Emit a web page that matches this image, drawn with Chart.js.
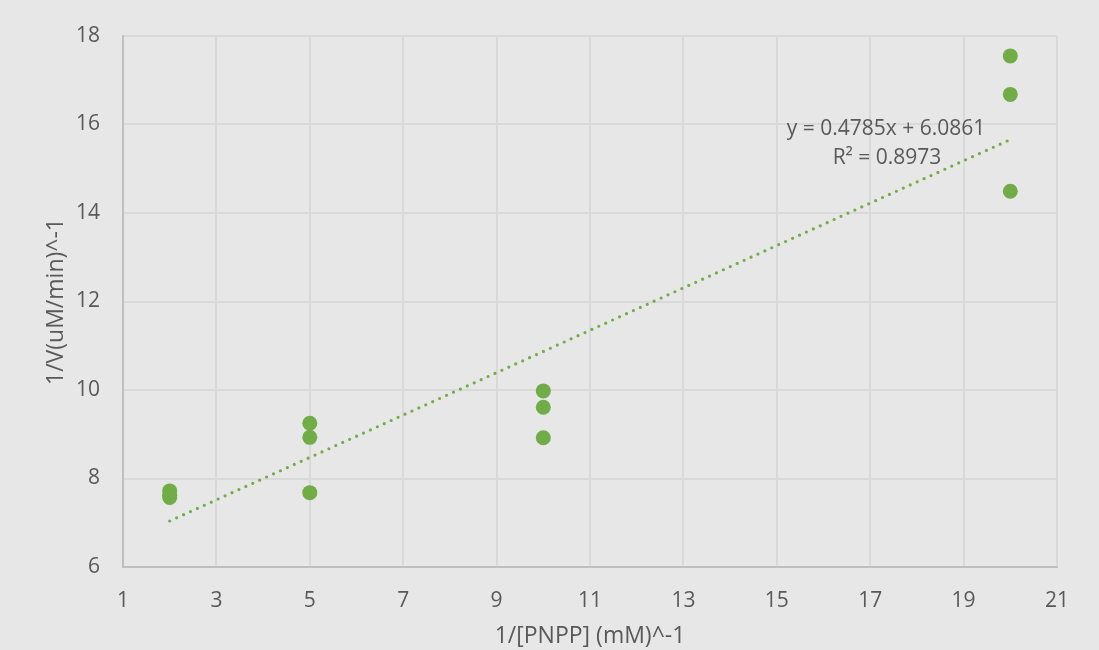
<!DOCTYPE html>
<html lang="en">
<head>
    <meta charset="UTF-8">
    <title>Lineweaver-Burk plot</title>
    <style>
        html, body {
            margin: 0;
            padding: 0;
            background-color: #e7e7e7;
        }

        .chart-box {
            width: 1099px;
            height: 650px;
        }
    </style>
</head>
<body>
    <div class="chart-box">
        <canvas id="lbChart" width="1099" height="650"></canvas>
    </div>

    <script src="https://cdn.jsdelivr.net/npm/chart.js"></script>
    <script>
        // measured points: 1/[PNPP] vs 1/V
        const xValues = [2, 2, 2, 5, 5, 5, 10, 10, 10, 20, 20, 20];
        const yValues = [7.72, 7.62, 7.57, 9.25, 8.93, 7.68, 9.98, 9.61, 8.92, 17.55, 16.68, 14.49];

        // linear trendline ends
        const trendX = [2, 20];
        const trendY = [7.04, 15.66];

        const equationLines = ['y = 0.4785x + 6.0861', 'R² = 0.8973'];

        const green = '#70ad47';
        const textGrey = '#595959';
        const fontFamily = '"Open Sans", sans-serif';

        const pointData = xValues.map((x, i) => ({ x: x, y: yValues[i] }));
        const trendData = trendX.map((x, i) => ({ x: x, y: trendY[i] }));

        // trendline equation text
        const equationLabel = {
            id: 'equationLabel',
            afterDatasetsDraw(chart) {
                const ctx = chart.ctx;
                ctx.save();
                ctx.fillStyle = textGrey;
                ctx.font = '21px ' + fontFamily;
                ctx.textAlign = 'center';
                ctx.textBaseline = 'middle';
                ctx.fillText(equationLines[0], 886, 129);
                ctx.fillText(equationLines[1], 887, 158);
                ctx.restore();
            }
        };

        new Chart(document.getElementById('lbChart').getContext('2d'), {
            type: 'scatter',
            data: {
                datasets: [
                    {
                        label: 'Linear trend',
                        data: trendData,
                        showLine: true,
                        borderColor: green,
                        borderWidth: 3.2,
                        borderDash: [0, 7.6],
                        borderCapStyle: 'round',
                        pointRadius: 0,
                        fill: false
                    },
                    {
                        label: '1/V',
                        data: pointData,
                        backgroundColor: green,
                        borderColor: green,
                        borderWidth: 0,
                        pointRadius: 7.5
                    }
                ]
            },
            options: {
                responsive: false,
                animation: false,
                layout: {
                    padding: { top: 36, right: 42, left: 0, bottom: 0 }
                },
                plugins: {
                    legend: { display: false },
                    tooltip: { enabled: false }
                },
                scales: {
                    x: {
                        type: 'linear',
                        min: 1,
                        max: 21,
                        afterFit(scale) { scale.height = 83; },
                        border: { color: '#bfbfbf', width: 2 },
                        grid: { color: '#d9d9d9', lineWidth: 2, drawTicks: false },
                        ticks: {
                            stepSize: 2,
                            padding: 21,
                            color: textGrey,
                            font: { size: 21, family: fontFamily }
                        },
                        title: {
                            display: true,
                            text: '1/[PNPP] (mM)^-1',
                            color: textGrey,
                            font: { size: 23, family: fontFamily },
                            padding: { top: 0, bottom: 0 }
                        }
                    },
                    y: {
                        type: 'linear',
                        min: 6,
                        max: 18,
                        afterFit(scale) { scale.width = 123; },
                        border: { color: '#bfbfbf', width: 2 },
                        grid: { color: '#d9d9d9', lineWidth: 2, drawTicks: false },
                        ticks: {
                            stepSize: 2,
                            padding: 23,
                            color: textGrey,
                            font: { size: 21, family: fontFamily }
                        },
                        title: {
                            display: true,
                            text: '1/V(uM/min)^-1',
                            color: textGrey,
                            font: { size: 23, family: fontFamily },
                            padding: { top: 43, bottom: 0 }
                        }
                    }
                }
            },
            plugins: [equationLabel]
        });
    </script>
</body>
</html>
